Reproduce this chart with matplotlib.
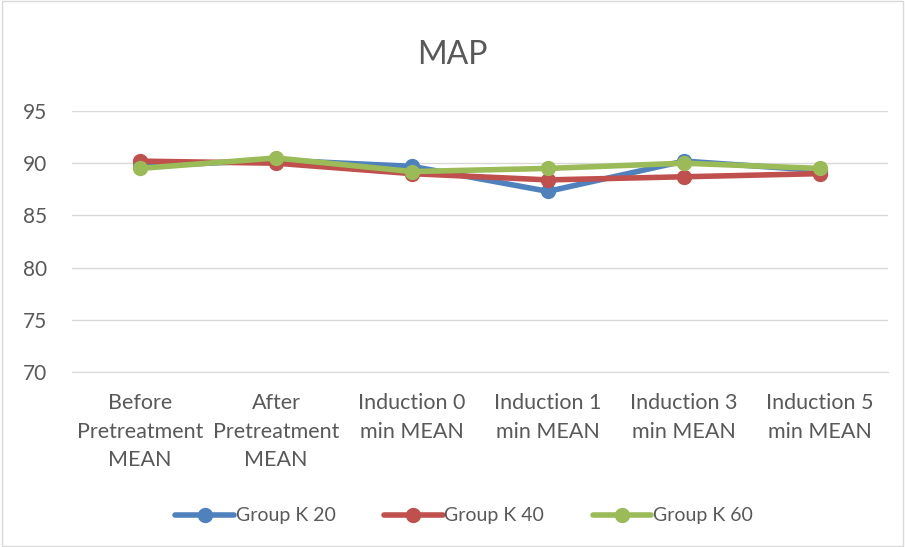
import matplotlib
matplotlib.use("Agg")
import matplotlib.pyplot as plt
from matplotlib.patches import Rectangle

categories = ["Before\nPretreatment\nMEAN", "After\nPretreatment\nMEAN", "Induction 0\nmin MEAN",
              "Induction 1\nmin MEAN", "Induction 3\nmin MEAN", "Induction 5\nmin MEAN"]
k20 = [89.7, 90.3, 89.7, 87.3, 90.2, 89.3]
k40 = [90.2, 90.0, 89.0, 88.4, 88.7, 89.0]
k60 = [89.5, 90.5, 89.2, 89.5, 90.0, 89.5]
series = [("Group K 20", k20, "#4F81BD"), ("Group K 40", k40, "#C0504D"), ("Group K 60", k60, "#9BBB59")]
yticks = [70, 75, 80, 85, 90, 95]

plt.rcParams['font.family'] = ['Lato', 'DejaVu Sans']
fig = plt.figure(figsize=(9.05, 5.47), dpi=100)
ax = fig.add_axes([72/905, 1-372/547, 816/905, (372-111)/547 * 1.0])
x = list(range(len(categories)))
for name, vals, c in series:
    ax.plot(x, vals, color=c, lw=4, marker='o', ms=10, label=name, solid_capstyle='round')
ax.set_xlim(-0.5, len(categories)-0.5)
ax.set_ylim(70, 95)
ax.set_yticks(yticks)
ax.grid(axis='y', color='#D9D9D9', lw=1)
ax.set_axisbelow(True)
for s in ['top', 'right', 'left']:
    ax.spines[s].set_visible(False)
ax.spines['bottom'].set_color('#D9D9D9')
ax.tick_params(axis='y', length=0, colors='#595959', labelsize=15, pad=18)
ax.tick_params(axis='x', length=0, colors='#595959', labelsize=15.5, pad=15)
ax.set_xticks(x)
ax.set_xticklabels(categories, linespacing=1.55)
fig.text(0.5, 1-55/547, "MAP", ha='center', va='center', fontsize=23, color='#595959')
leg = fig.legend(loc='center', bbox_to_anchor=(0.513, 1-516/547), ncol=3, frameon=False,
                 fontsize=14, handlelength=3.0, handletextpad=0.1, columnspacing=2.5)
for t in leg.get_texts():
    t.set_color('#595959')
fig.patches.append(Rectangle((0.002, 0.002), 0.996, 0.996, transform=fig.transFigure,
                             fill=False, edgecolor='#D9D9D9', lw=1))
fig.savefig("out.png", dpi=100)
